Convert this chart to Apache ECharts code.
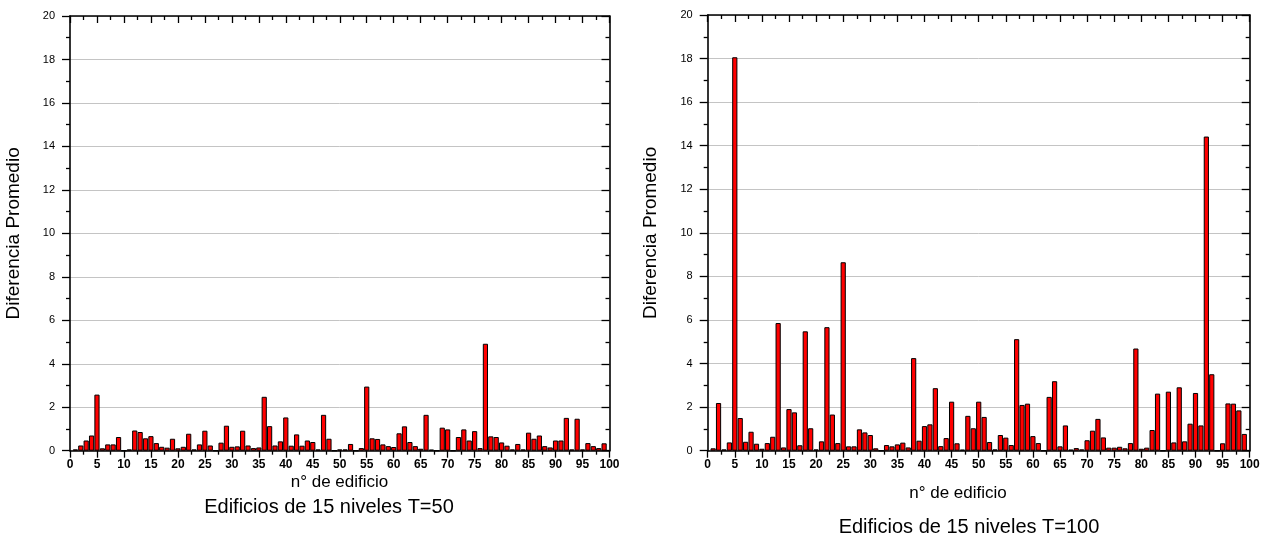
<!DOCTYPE html>
<html>
<head>
<meta charset="utf-8">
<script src="https://cdn.jsdelivr.net/npm/echarts@6/dist/echarts.min.js"></script>
<style>
  html, body { margin: 0; padding: 0; background: #fff; }
  #chart { width: 1270px; height: 538px; }
</style>
</head>
<body>
<div id="chart"></div>
<script>
// Building numbers 1..99
const buildings = Array.from({ length: 99 }, (_, i) => i + 1);

// Average difference per building, T=50
const diffT50 = [
  0.06, 0.24, 0.47, 0.70, 2.58, 0.11, 0.29, 0.29, 0.63, 0,
  0.06, 0.93, 0.86, 0.57, 0.67, 0.35, 0.18, 0.14, 0.55, 0.11,
  0.18, 0.78, 0.06, 0.29, 0.92, 0.24, 0, 0.37, 1.15, 0.18,
  0.20, 0.92, 0.24, 0.12, 0.15, 2.48, 1.13, 0.24, 0.43, 1.53,
  0.23, 0.75, 0.23, 0.47, 0.40, 0.06, 1.65, 0.55, 0, 0.06,
  0.06, 0.31, 0, 0.12, 2.95, 0.57, 0.54, 0.29, 0.21, 0.17,
  0.80, 1.12, 0.40, 0.21, 0.09, 1.65, 0.05, 0, 1.06, 0.98,
  0, 0.63, 0.98, 0.47, 0.90, 0.12, 4.92, 0.66, 0.63, 0.38,
  0.23, 0.06, 0.31, 0.06, 0.83, 0.55, 0.70, 0.21, 0.15, 0.47,
  0.47, 1.51, 0.06, 1.47, 0.06, 0.35, 0.21, 0.12, 0.34
];

// Average difference per building, T=100
const diffT100 = [
  0.11, 2.19, 0.06, 0.38, 18.06, 1.50, 0.41, 0.87, 0.32, 0.09,
  0.35, 0.64, 5.86, 0.15, 1.91, 1.76, 0.25, 5.48, 1.03, 0.06,
  0.43, 5.67, 1.66, 0.35, 8.65, 0.20, 0.20, 0.98, 0.84, 0.72,
  0.11, 0, 0.26, 0.20, 0.29, 0.37, 0.15, 4.25, 0.46, 1.13,
  1.21, 2.87, 0.21, 0.58, 2.25, 0.34, 0.05, 1.60, 1.03, 2.25,
  1.55, 0.40, 0.06, 0.72, 0.60, 0.26, 5.12, 2.10, 2.16, 0.67,
  0.35, 0, 2.47, 3.19, 0.20, 1.16, 0.05, 0.12, 0.06, 0.48,
  0.92, 1.46, 0.61, 0.14, 0.14, 0.18, 0.11, 0.35, 4.69, 0.09,
  0.14, 0.95, 2.62, 0, 2.71, 0.38, 2.91, 0.43, 1.24, 2.65,
  1.16, 14.42, 3.51, 0, 0.34, 2.17, 2.16, 1.85, 0.77
];

const yTitle = 'Diferencia Promedio';
const xTitle = 'n° de edificio';
const subtitles = ['Edificios de 15 niveles T=50', 'Edificios de 15 niveles T=100'];

const FONT = '"Liberation Sans", Arial, Helvetica, sans-serif';
const black = '#000';

function xAxes(gridIndex) {
  const base = {
    type: 'value', gridIndex, min: 0, max: 100, interval: 5,
    axisLine: { show: true, onZero: false, lineStyle: { color: black, width: 1.6 } },
    splitLine: { show: false },
    minorTick: { show: true, splitNumber: 2, length: 4, lineStyle: { color: black, width: 1.3 } },
    axisTick: { show: true, length: 7, lineStyle: { color: black, width: 1.3 } }
  };
  return [
    Object.assign({}, base, {
      position: 'bottom',
      axisTick: Object.assign({}, base.axisTick, { inside: false }),
      axisLabel: { show: true, margin: 8, color: black, fontSize: 12, fontWeight: 'bold', fontFamily: FONT }
    }),
    Object.assign({}, base, {
      position: 'top',
      axisTick: Object.assign({}, base.axisTick, { inside: true }),
      axisLabel: { show: false }
    })
  ];
}

function yAxes(gridIndex) {
  const base = {
    type: 'value', gridIndex, min: 0, max: 20, interval: 2,
    axisLine: { show: true, onZero: false, lineStyle: { color: black, width: 1.6 } },
    minorTick: { show: true, splitNumber: 2, length: 4, lineStyle: { color: black, width: 1.3 } },
    axisTick: { show: true, length: 8, lineStyle: { color: black, width: 1.3 } }
  };
  return [
    Object.assign({}, base, {
      position: 'left',
      name: yTitle, nameLocation: 'middle', nameGap: 47, nameRotate: 90,
      nameTextStyle: { color: black, fontSize: 19, fontFamily: FONT },
      splitLine: { show: true, lineStyle: { color: '#c4c4c4', width: 1 } },
      axisLabel: { show: true, margin: 15, color: black, fontSize: 11, fontFamily: FONT }
    }),
    Object.assign({}, base, {
      position: 'right',
      axisTick: Object.assign({}, base.axisTick, { inside: true }),
      splitLine: { show: false },
      axisLabel: { show: false }
    })
  ];
}

function barSeries(xIdx, yIdx, values) {
  return {
    type: 'bar', xAxisIndex: xIdx, yAxisIndex: yIdx,
    data: buildings.map((b, i) => [b, values[i]]),
    barWidth: 5.2,
    itemStyle: { color: '#ff0000', borderColor: '#000', borderWidth: 1 },
    silent: true, animation: false
  };
}

const chart = echarts.init(document.getElementById('chart'), null, { renderer: 'canvas' });
chart.setOption({
  backgroundColor: '#fff',
  animation: false,
  grid: [
    { left: 70, top: 16, width: 539.5, height: 434.7 },
    { left: 707.7, top: 15, width: 542, height: 435.7 }
  ],
  xAxis: [...xAxes(0), ...xAxes(1)],
  yAxis: [...yAxes(0), ...yAxes(1)],
  series: [barSeries(0, 0, diffT50), barSeries(2, 2, diffT100)],
  graphic: [
    { type: 'text', style: { text: xTitle, x: 339.5, y: 482, font: '17px ' + FONT, fill: black, align: 'center', verticalAlign: 'middle' } },
    { type: 'text', style: { text: subtitles[0], x: 329, y: 507, font: '20px ' + FONT, fill: black, align: 'center', verticalAlign: 'middle' } },
    { type: 'text', style: { text: xTitle, x: 958, y: 493, font: '17px ' + FONT, fill: black, align: 'center', verticalAlign: 'middle' } },
    { type: 'text', style: { text: subtitles[1], x: 969, y: 527, font: '20px ' + FONT, fill: black, align: 'center', verticalAlign: 'middle' } }
  ]
});
</script>
</body>
</html>
